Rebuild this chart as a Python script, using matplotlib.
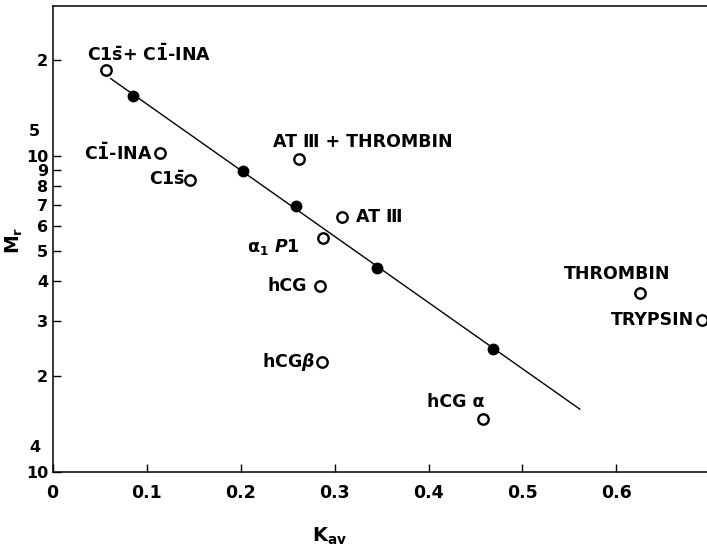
import numpy as np
import matplotlib
matplotlib.use("Agg")
import matplotlib.pyplot as plt
from matplotlib.ticker import FixedLocator, NullLocator

## fonts: bold sans everywhere, also inside mathtext
plt.rcParams["font.family"] = ["DejaVu Sans"]
plt.rcParams["font.weight"] = "bold"
plt.rcParams["mathtext.fontset"] = "custom"
plt.rcParams["mathtext.rm"] = "DejaVu Sans:bold"
plt.rcParams["mathtext.it"] = "DejaVu Sans:bold:italic"
plt.rcParams["mathtext.bf"] = "DejaVu Sans:bold"

## calibration standards (filled dots)
std_kav = [0.086, 0.203, 0.2585, 0.345, 0.469]
std_mr = [1.54e5, 8.96e4, 6.91e4, 4.41e4, 2.45e4]
line_kav = [0.062, 0.561]  # extent of the fitted line

## samples (open circles)
names = [r"C1$\bar{\mathrm{s}}$+ C$\bar{1}$-INA", r"C$\bar{1}$-INA",
         r"C1$\bar{\mathrm{s}}$", "AT Ⅲ + THROMBIN", "AT Ⅲ", r"α$_1$ $P$1",
         "hCG", r"hCG$\beta$", "hCG α", "THROMBIN", "TRYPSIN"]
kav = [0.0569, 0.1144, 0.1463, 0.2622, 0.3077, 0.2874, 0.2846, 0.2864,
       0.4583, 0.625, 0.691]
mr = [1.865e5, 1.02e5, 8.36e4, 9.72e4, 6.37e4, 5.49e4, 3.87e4, 2.22e4,
      1.47e4, 3.67e4, 3.01e4]

# label offsets (points) and alignment for each sample
offs = [(-13.7, 11.5, "left"), (-5.8, 0, "right"), (-3.6, 0, "right"),
        (-19, 12.5, "left"), (10, 0, "left"), (-16.3, -6.5, "right"),
        (-9.6, 0, "right"), (-4.8, 0, "right"), (1.2, 12, "right"),
        (-16.8, 13.5, "center"), (-5.4, 0, "right")]

## y ticks: mantissa labels on a log axis
ytick_vals = [1e4, 2e4, 3e4, 4e4, 5e4, 6e4, 7e4, 8e4, 9e4, 1e5, 2e5]
ytick_labels = ["10", "2", "3", "4", "5", "6", "7", "8", "9", "10", "2"]
xtick_vals = [0, 0.1, 0.2, 0.3, 0.4, 0.5, 0.6]
xtick_labels = ["0", "0.1", "0.2", "0.3", "0.4", "0.5", "0.6"]

fig = plt.figure(figsize=(7.07, 5.52), dpi=100)
ax = fig.add_axes([0.0743, 0.1458, 0.9257, 0.8442])
ax.set_yscale("log")
ax.set_xlim(0, 0.6963)
ax.set_ylim(1e4, 2.985e5)

# fitted line log(Mr) vs Kav
p = np.polyfit(std_kav, np.log10(std_mr), 1)
lx = np.array(line_kav)
ax.plot(lx, 10 ** np.polyval(p, lx), color="black", lw=1.0)
ax.plot(std_kav, std_mr, "o", color="black", ms=7.5)

ax.plot(kav, mr, "o", mfc="white", mec="black", mew=1.7, ms=7.5,
        clip_on=False, zorder=3)
for n, x, y, (dx, dy, ha) in zip(names, kav, mr, offs):
    ax.annotate(n, (x, y), xytext=(dx, dy), textcoords="offset points",
                ha=ha, va="center", fontsize=12.5, fontweight="bold")

# axes styling
for s in ["left", "bottom", "top"]:
    ax.spines[s].set_linewidth(1.1)
ax.spines["right"].set_visible(False)
ax.yaxis.set_major_locator(FixedLocator(ytick_vals))
ax.yaxis.set_minor_locator(NullLocator())
ax.set_yticklabels(ytick_labels)
ax.set_xticks(xtick_vals)
ax.set_xticklabels(xtick_labels)
ax.tick_params(direction="in", length=6, width=1.0)
ax.tick_params(axis="y", pad=3, labelsize=11.5)
ax.tick_params(axis="x", pad=9, labelsize=12.5)

# decade exponents written above the "10" labels
for v, e in [(1e4, "4"), (1e5, "5")]:
    ax.annotate(e, (0, v), xytext=(-9, 17), textcoords="offset points",
                ha="right", va="center", fontsize=11.5, fontweight="bold",
                annotation_clip=False)

ax.set_ylabel(r"M$_\mathrm{r}$", fontsize=13.5, fontweight="bold")
ax.yaxis.label.set(va="center", ha="center")
ax.yaxis.set_label_coords(-0.058, 0.497)
ax.set_xlabel(r"K$_\mathrm{av}$", fontsize=14, fontweight="bold")
ax.xaxis.label.set(va="center", ha="center")
ax.xaxis.set_label_coords(0.424, -0.14)

fig.savefig("out.png", dpi=100)
